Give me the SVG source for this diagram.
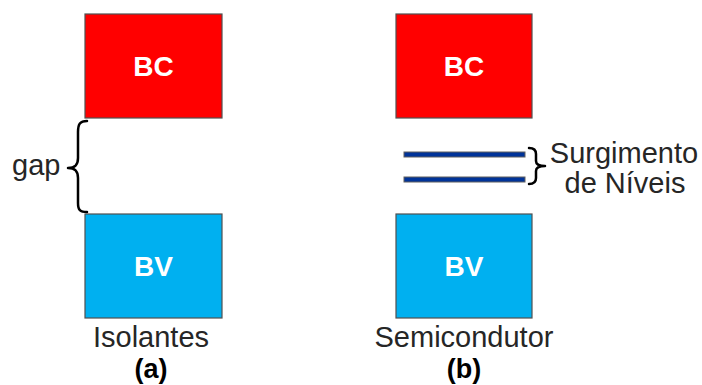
<svg xmlns="http://www.w3.org/2000/svg" width="702" height="385" viewBox="0 0 702 385">
  <style>
    .bc { fill: #FF0000; stroke: #505050; stroke-width: 1.2; }
    .bv { fill: #00B0F0; stroke: #505050; stroke-width: 1.2; }
    .band { font-family: "Liberation Sans", Arial, sans-serif; font-size: 28px; font-weight: bold; fill: #FFFFFF; text-anchor: middle; }
    .lbl { font-family: "Liberation Sans", Arial, sans-serif; font-size: 29px; fill: #262626; }
    .cap { font-family: "Liberation Sans", Arial, sans-serif; font-size: 27px; font-weight: bold; fill: #000000; text-anchor: middle; }
    .brace { fill: none; stroke: #000000; stroke-width: 2.5; stroke-linecap: round; stroke-linejoin: round; }
    .level { fill: #003399; stroke: #606060; stroke-width: 1; }
  </style>

  <!-- (a) insulator -->
  <g id="a-bc">
    <rect class="bc" x="85" y="14" width="137" height="104"/>
    <text class="band" x="153.5" y="76">BC</text>
  </g>
  <g id="a-bv">
    <rect class="bv" x="85" y="214" width="137" height="104"/>
    <text class="band" x="153.5" y="276">BV</text>
  </g>
  <g id="a-gap">
    <path class="brace" d="M87,121 C80,121 78,124 78,132 L78,158 C78,165 75,168 68,168 C75,168 78,171 78,178 L78,203 C78,210 80,212 87,212"/>
    <text class="lbl" x="12" y="175">gap</text>
  </g>
  <g id="a-caption">
    <text class="lbl" x="151" y="347" text-anchor="middle">Isolantes</text>
    <text class="cap" x="151" y="378">(a)</text>
  </g>

  <!-- (b) semiconductor -->
  <g id="b-bc">
    <rect class="bc" x="396" y="14" width="136" height="104"/>
    <text class="band" x="464" y="76">BC</text>
  </g>
  <g id="b-bv">
    <rect class="bv" x="396" y="214" width="136" height="104"/>
    <text class="band" x="464" y="276">BV</text>
  </g>
  <g id="b-levels">
    <rect class="level" x="404" y="152" width="121" height="5"/>
    <rect class="level" x="404" y="177" width="121" height="5"/>
  </g>
  <g id="b-levels-label">
    <path class="brace" d="M529,148 C534,148 536,150 536,154 L536,161 C536,164 538,166 545,166 C538,166 536,168 536,171 L536,178 C536,182 534,184 529,184"/>
    <text class="lbl" x="624" y="163" text-anchor="middle">Surgimento</text>
    <text class="lbl" x="625" y="193" text-anchor="middle">de Níveis</text>
  </g>
  <g id="b-caption">
    <text class="lbl" x="464" y="347" text-anchor="middle">Semicondutor</text>
    <text class="cap" x="464" y="378">(b)</text>
  </g>
</svg>
